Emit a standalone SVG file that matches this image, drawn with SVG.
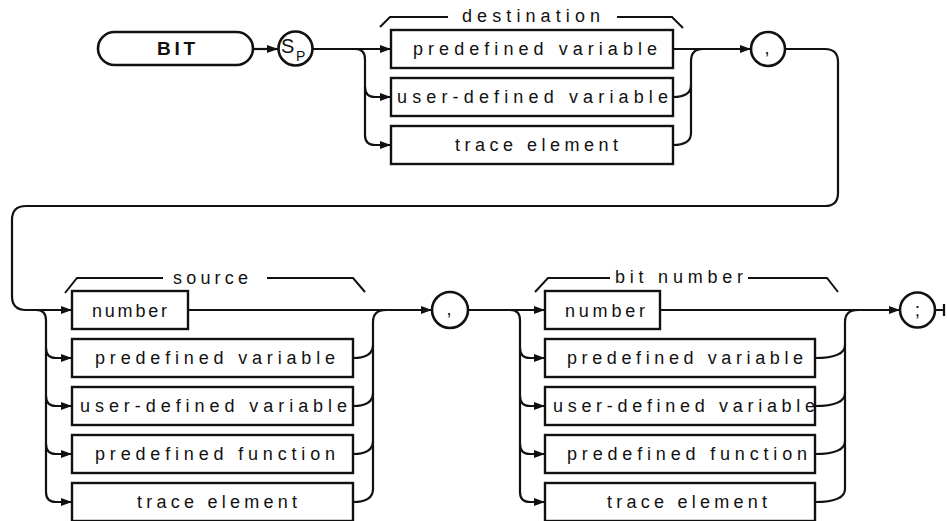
<svg xmlns="http://www.w3.org/2000/svg" width="947" height="521" viewBox="0 0 947 521">
<style>
  .box { fill: #fff; stroke: #111; stroke-width: 2.4; }
  .term { fill: #fff; stroke: #111; stroke-width: 2.6; }
  .ln { fill: none; stroke: #111; stroke-width: 2.2; }
  .t { font-family: "Liberation Sans", "DejaVu Sans", sans-serif; font-size: 18px; fill: #111; }
  .big { font-family: "Liberation Sans", "DejaVu Sans", sans-serif; font-size: 19px; font-weight: bold; fill: #111; }
  .br { fill: none; stroke: #111; stroke-width: 2; }
</style>
<defs>
  <marker id="arr" viewBox="0 0 11 8" refX="11" refY="4" markerWidth="11" markerHeight="8" markerUnits="userSpaceOnUse" orient="auto">
    <path d="M0,0 L11,4 L0,8 z" fill="#111"/>
  </marker>
</defs>
<rect width="947" height="521" fill="#fff"/>

<g id="connectors">
  <path class="ln" d="M253,49 L278,49" marker-end="url(#arr)"/>
  <path class="ln" d="M313,49 L391,49" marker-end="url(#arr)"/>
  <path class="ln" d="M355,49 Q365,49 365,59 L365,87 Q365,97 375,97 L391,97" marker-end="url(#arr)"/>
  <path class="ln" d="M365,87 L365,135 Q365,145 375,145 L391,145" marker-end="url(#arr)"/>
  <path class="ln" d="M673,49 L751,49" marker-end="url(#arr)"/>
  <path class="ln" d="M673,97 Q691,97 691,85 L691,61 Q691,49 703,49"/>
  <path class="ln" d="M673,145 Q691,145 691,133 L691,85"/>
  <path class="ln" d="M785,49 L825,49 Q838,49 838,62 L838,193 Q838,206 825,206 L26,206 Q12,206 12,220 L12,296 Q12,310 26,310 L72,310" marker-end="url(#arr)"/>

  <path class="ln" d="M36,310 Q46,310 46,320 L46,348 Q46,358 56,358 L72,358" marker-end="url(#arr)"/>
  <path class="ln" d="M46,348 L46,396 Q46,406 56,406 L72,406" marker-end="url(#arr)"/>
  <path class="ln" d="M46,396 L46,444 Q46,454 56,454 L72,454" marker-end="url(#arr)"/>
  <path class="ln" d="M46,444 L46,492 Q46,502 56,502 L72,502" marker-end="url(#arr)"/>
  <path class="ln" d="M188,310 L432,310" marker-end="url(#arr)"/>
  <path class="ln" d="M353,358 Q373,358 373,345 L373,322 Q373,310 386,310"/>
  <path class="ln" d="M353,406 Q373,406 373,393 L373,345"/>
  <path class="ln" d="M353,454 Q373,454 373,441 L373,393"/>
  <path class="ln" d="M353,502 Q373,502 373,489 L373,441"/>

  <path class="ln" d="M468,310 L545,310" marker-end="url(#arr)"/>
  <path class="ln" d="M510,310 Q520,310 520,320 L520,348 Q520,358 530,358 L545,358" marker-end="url(#arr)"/>
  <path class="ln" d="M520,348 L520,396 Q520,406 530,406 L545,406" marker-end="url(#arr)"/>
  <path class="ln" d="M520,396 L520,444 Q520,454 530,454 L545,454" marker-end="url(#arr)"/>
  <path class="ln" d="M520,444 L520,492 Q520,502 530,502 L545,502" marker-end="url(#arr)"/>
  <path class="ln" d="M660,310 L900,310" marker-end="url(#arr)"/>
  <path class="ln" d="M815,358 Q845,358 845,345 L845,322 Q845,310 858,310"/>
  <path class="ln" d="M815,406 Q845,406 845,393 L845,345"/>
  <path class="ln" d="M815,454 Q845,454 845,441 L845,393"/>
  <path class="ln" d="M815,502 Q845,502 845,489 L845,441"/>
  <path class="ln" d="M935,310 L944,310 M944,304 L944,316"/>
</g>

<g id="labels">
  <path class="br" d="M380,27 L390,17 L448,17 M617,17 L672,17 L683,28"/>
  <text class="t" x="462" y="22" textLength="138" lengthAdjust="spacing">destination</text>
  <path class="br" d="M65,293 L77,278 L163,278 M267,278 L353,278 L365,292"/>
  <text class="t" x="173" y="284" textLength="75" lengthAdjust="spacing">source</text>
  <path class="br" d="M535,292 L548,278 L610,278 M748,278 L827,278 L838,292"/>
  <text class="t" x="615" y="283" textLength="128" lengthAdjust="spacing">bit number</text>
</g>

<g id="n-bit">
  <rect class="term" x="98" y="32" width="155" height="33" rx="16.5"/>
  <text class="big" x="157" y="55" textLength="38" lengthAdjust="spacing">BIT</text>
</g>
<g id="n-sp">
  <circle class="term" cx="295.5" cy="48.5" r="17"/>
  <text class="t" x="281" y="53" style="font-size:20px">S</text>
  <text class="t" x="296" y="61" style="font-size:14px">P</text>
</g>
<g id="n-dest-pv">
  <rect class="box" x="391" y="30" width="282" height="38"/>
  <text class="t" x="413" y="55" textLength="244" lengthAdjust="spacing">predefined variable</text>
</g>
<g id="n-dest-uv">
  <rect class="box" x="391" y="78" width="282" height="38"/>
  <text class="t" x="397" y="103" textLength="271" lengthAdjust="spacing">user-defined variable</text>
</g>
<g id="n-dest-te">
  <rect class="box" x="391" y="126" width="282" height="38"/>
  <text class="t" x="455" y="151" textLength="163" lengthAdjust="spacing">trace element</text>
</g>
<g id="n-comma1">
  <circle class="term" cx="768" cy="49" r="17"/>
  <text class="t" x="767" y="54" text-anchor="middle">,</text>
</g>

<g id="n-src-num">
  <rect class="box" x="72" y="291" width="116" height="38"/>
  <text class="t" x="92" y="317" textLength="75" lengthAdjust="spacing">number</text>
</g>
<g id="n-src-pv">
  <rect class="box" x="72" y="339" width="281" height="38"/>
  <text class="t" x="95" y="364" textLength="240" lengthAdjust="spacing">predefined variable</text>
</g>
<g id="n-src-uv">
  <rect class="box" x="72" y="387" width="281" height="38"/>
  <text class="t" x="80" y="412" textLength="267" lengthAdjust="spacing">user-defined variable</text>
</g>
<g id="n-src-pf">
  <rect class="box" x="72" y="435" width="281" height="38"/>
  <text class="t" x="95" y="460" textLength="240" lengthAdjust="spacing">predefined function</text>
</g>
<g id="n-src-te">
  <rect class="box" x="72" y="483" width="281" height="38"/>
  <text class="t" x="137" y="508" textLength="160" lengthAdjust="spacing">trace element</text>
</g>
<g id="n-comma2">
  <circle class="term" cx="450" cy="310" r="18"/>
  <text class="t" x="449" y="315" text-anchor="middle">,</text>
</g>

<g id="n-bit-num">
  <rect class="box" x="545" y="291" width="115" height="38"/>
  <text class="t" x="565" y="317" textLength="80" lengthAdjust="spacing">number</text>
</g>
<g id="n-bit-pv">
  <rect class="box" x="545" y="339" width="270" height="38"/>
  <text class="t" x="567" y="364" textLength="236" lengthAdjust="spacing">predefined variable</text>
</g>
<g id="n-bit-uv">
  <rect class="box" x="545" y="387" width="270" height="38"/>
  <text class="t" x="553" y="412" textLength="262" lengthAdjust="spacing">user-defined variable</text>
</g>
<g id="n-bit-pf">
  <rect class="box" x="545" y="435" width="270" height="38"/>
  <text class="t" x="567" y="460" textLength="240" lengthAdjust="spacing">predefined function</text>
</g>
<g id="n-bit-te">
  <rect class="box" x="545" y="483" width="270" height="38"/>
  <text class="t" x="607" y="508" textLength="160" lengthAdjust="spacing">trace element</text>
</g>
<g id="n-semi">
  <circle class="term" cx="917.5" cy="310" r="17.5"/>
  <text class="t" x="917.5" y="316" text-anchor="middle" style="font-size:19px">;</text>
</g>
</svg>
